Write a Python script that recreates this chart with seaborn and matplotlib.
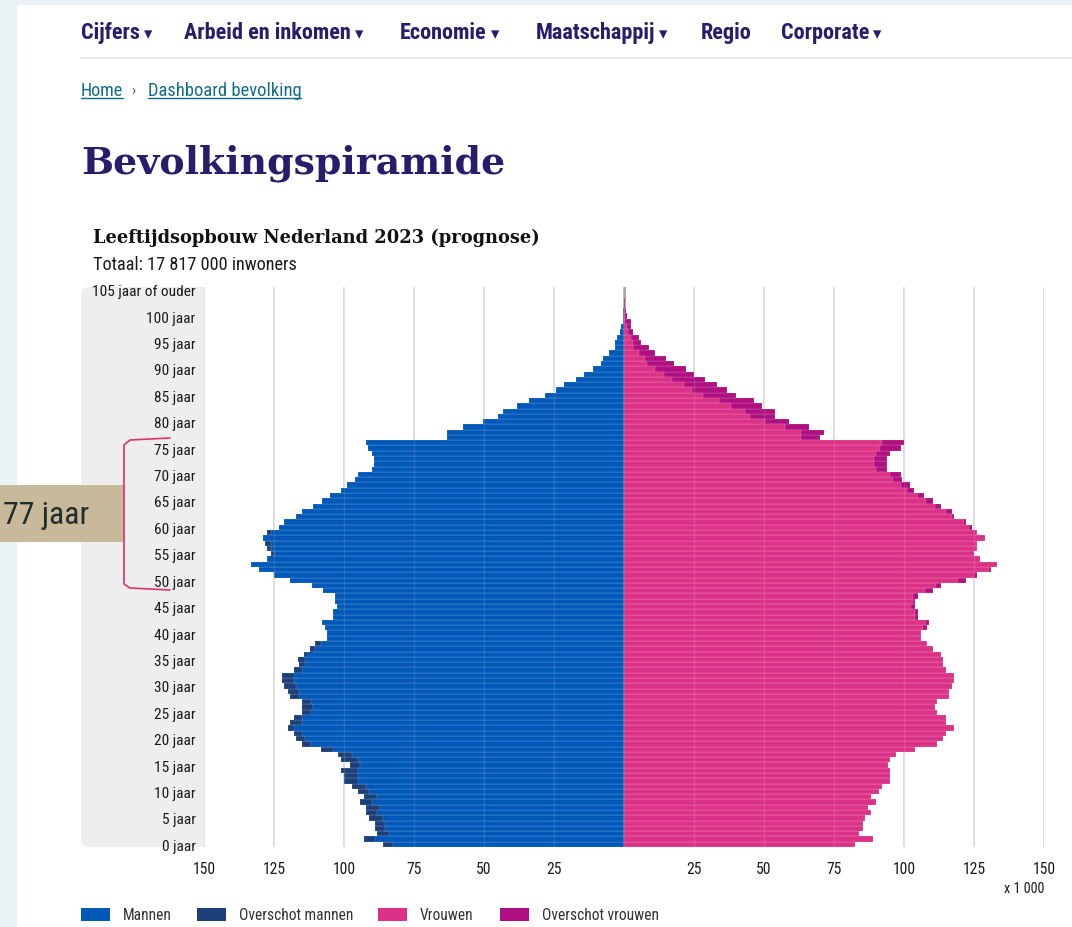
import numpy as np
import matplotlib
matplotlib.use("Agg")
import matplotlib.pyplot as plt
import matplotlib.font_manager as fm
from matplotlib.patches import Rectangle, FancyBboxPatch
from matplotlib.lines import Line2D
import seaborn as sns

# Leeftijd 0 .. 105 (105 = 105 jaar of ouder), aantallen x 1 000
leeftijd = list(range(106))
mannen = [
    86.2, 93.0, 88.2, 89.0, 89.0, 91.2, 92.0, 92.0, 94.2, 93.0,
    95.1, 97.1, 100.0, 100.0, 101.0, 97.9, 101.0, 102.3, 108.2, 115.0,
    117.2, 118.0, 120.1, 119.3, 118.0, 115.0, 115.0, 115.0, 119.3, 120.1,
    121.3, 122.3, 122.3, 118.0, 116.0, 116.3, 114.2, 112.1, 110.4, 106.2,
    106.2, 106.8, 108.0, 104.1, 104.1, 102.4, 103.2, 103.1, 107.4, 111.3,
    119.3, 125.0, 130.4, 133.3, 127.4, 126.2, 127.4, 128.2, 129.0, 127.4,
    123.1, 121.3, 117.1, 114.9, 111.0, 108.0, 105.0, 101.1, 99.0, 96.0,
    95.0, 90.1, 89.2, 89.2, 90.1, 91.3, 92.1, 63.3, 63.3, 57.4,
    50.2, 45.1, 43.1, 38.3, 34.0, 28.2, 24.3, 21.3, 17.1, 14.2,
    11.1, 8.3, 7.4, 5.2, 3.2, 3.1, 2.4, 1.4, 1.1, 0.5,
    0.3, 0.2, 0.1, 0.05, 0.02, 0.02,
]
vrouwen = [
    82.4, 89.0, 84.0, 85.2, 85.2, 86.1, 88.1, 87.0, 89.9, 88.1,
    91.2, 92.1, 95.0, 95.0, 95.0, 94.3, 95.0, 97.1, 103.9, 111.9,
    114.0, 115.0, 118.0, 115.0, 115.0, 111.9, 111.1, 111.9, 116.2, 116.2,
    117.0, 118.0, 118.0, 115.0, 114.0, 114.0, 113.1, 110.2, 108.1, 106.1,
    106.1, 108.1, 109.0, 105.1, 105.1, 103.9, 103.9, 105.1, 110.2, 113.1,
    122.1, 126.0, 131.1, 133.1, 127.1, 125.1, 126.0, 126.0, 128.9, 126.0,
    124.2, 122.1, 117.9, 117.0, 113.1, 110.2, 107.1, 103.7, 102.1, 99.2,
    99.0, 94.0, 94.0, 94.0, 94.9, 99.0, 100.0, 69.9, 71.3, 66.2,
    58.9, 53.8, 53.8, 49.3, 46.3, 39.9, 36.8, 33.2, 29.0, 25.0,
    22.3, 17.9, 14.9, 11.2, 8.9, 6.2, 5.2, 3.2, 2.4, 2.4,
    1.2, 0.8, 0.4, 0.2, 0.1, 0.1,
]
x_ticks = [-150, -125, -100, -75, -50, -25, 25, 50, 75, 100, 125, 150]
y_ticks = list(range(0, 106, 5))
y_labels = [f"{a} jaar" for a in y_ticks[:-1]] + ["105 jaar of ouder"]
reeksen = ["Mannen", "Overschot mannen", "Vrouwen", "Overschot vrouwen"]
kleuren = ["#0058B8", "#1C3F7A", "#DB3288", "#AF0F80"]
menu = ["Cijfers", "Arbeid en inkomen", "Economie", "Maatschappij", "Regio", "Corporate"]

# lettertypes
sns.set_style("white")
beschikbaar = {f.name for f in fm.fontManager.ttflist}
smal = "DejaVu Sans"
for naam in ["Roboto Condensed", "Liberation Sans Narrow", "Open Sans Condensed"]:
    if naam in beschikbaar:
        smal = naam
        break
plt.rcParams["font.family"] = [smal, "DejaVu Sans"]

INDIGO = "#271D6C"
TEAL = "#126B8C"

fig = plt.figure(figsize=(10.72, 9.28), dpi=100)
fig.patch.set_facecolor("white")
T = fig.dpi_scale_trans
r = fig.canvas.get_renderer()


def P(px, py):
    return px / 100, (928 - py) / 100


def breedte(t):
    return t.get_window_extent(r).width


def fit(t, doel):
    t.set_fontsize(t.get_fontsize() * doel / breedte(t))
    return t


# pagina achtergrond
fig.patches.append(Rectangle((0, 0), 0.16, 9.28, transform=T, color="#EAF2F5", zorder=-2))
fig.patches.append(Rectangle((0, 9.23), 10.72, 0.05, transform=T, color="#EAF2F5", zorder=-2))

# menu: een lettergrootte voor alle items
proef = fig.text(0, 0, "Arbeid en inkomen", fontsize=14, fontweight="bold", family=smal)
menu_fs = 14 * 168 / breedte(proef)
proef.remove()
menu_x = [81, 184, 400, 536, 701, 781]
for naam, x0 in zip(menu, menu_x):
    t = fig.text(*P(x0, 33), naam, transform=T, fontsize=menu_fs, fontweight="bold",
                 family=smal, color=INDIGO, va="center")
    if naam != "Regio":
        x1 = x0 + breedte(t)
        fig.text(*P(x1 + 4, 34), "▾", transform=T, fontsize=12, family="DejaVu Sans",
                 color=INDIGO, va="center")
fig.lines.append(Line2D([0.81, 10.72], [(928 - 59) / 100] * 2, transform=T,
                        color="#E6E6E6", lw=1.2))

# kruimelpad
for tekst, (x0, x1) in [("Home", (81, 123)), ("Dashboard bevolking", (148, 301))]:
    t = fig.text(*P(x0, 91), tekst, transform=T, fontsize=11, color=TEAL, va="center")
    fit(t, x1 - x0)
    fig.lines.append(Line2D([x0 / 100, x1 / 100], [(928 - 99) / 100] * 2, transform=T,
                            color=TEAL, lw=1))
fig.text(*P(131, 91), "›", transform=T, fontsize=11, color="#555555", va="center")

# titels
t = fig.text(*P(81, 174), "Bevolkingspiramide", transform=T, fontsize=32,
             fontweight="bold", family="DejaVu Serif", color=INDIGO, va="baseline")
fit(t, 425)
t = fig.text(*P(93, 243), "Leeftijdsopbouw Nederland 2023 (prognose)", transform=T,
             fontsize=15, fontweight="bold", family="DejaVu Serif", color="#111111",
             va="baseline")
fit(t, 448)
t = fig.text(*P(93, 270), "Totaal: 17 817 000 inwoners", transform=T, fontsize=11,
             color="#1a1a1a", va="baseline")
fit(t, 204)

# grijs vlak achter de leeftijdslabels
fig.patches.append(FancyBboxPatch((0.81, 0.80), 1.23, 5.60, transform=T,
                                  boxstyle="round,pad=0,rounding_size=0.08",
                                  fc="#EEEEEE", ec="none", zorder=-1))
fig.patches.append(Rectangle((1.85, 0.80), 0.19, 5.60, transform=T, fc="#EEEEEE",
                             ec="none", zorder=-1))

# grafiek
ax = fig.add_axes([204 / 1072, 80 / 928, 840 / 1072, 560 / 928])
ax.set_facecolor("none")

m = np.array(mannen)
v = np.array(vrouwen)
gemeen = np.minimum(m, v)
opts = dict(orient="h", native_scale=True, width=1.0, errorbar=None,
            saturation=1, linewidth=0.35, edgecolor=(1, 1, 1, 0.3), ax=ax, zorder=2)
sns.barplot(x=-m, y=leeftijd, color=kleuren[1], **opts)
sns.barplot(x=-gemeen, y=leeftijd, color=kleuren[0], **opts)
sns.barplot(x=v, y=leeftijd, color=kleuren[3], **opts)
sns.barplot(x=gemeen, y=leeftijd, color=kleuren[2], **opts)

for xv in range(-150, 151, 25):
    if xv == 0:
        ax.axvline(0, color="#8A8A8A", lw=1.8, zorder=1)
    else:
        ax.axvline(xv, color="#D9D9D9", lw=1.3, zorder=1)
        ax.axvline(xv, color="white", lw=1.0, alpha=0.12, zorder=3)

ax.set_xlim(-150, 150)
ax.set_ylim(-0.5, 105.5)
for s in ax.spines.values():
    s.set_visible(False)
ax.set_xlabel("")
ax.set_ylabel("")

# maat van de kleine teksten afstemmen op de breedte in de referentie
proef = fig.text(0, 0, "105 jaar of ouder", fontsize=10)
y_fs = 10 * 103 / breedte(proef)
proef.set_text("150")
x_fs = 10 * 23 / breedte(proef)
proef.set_text("Overschot mannen")
l_fs = 10 * 114 / breedte(proef)
proef.remove()

ax.set_yticks(y_ticks)
ax.set_yticklabels(y_labels, fontsize=y_fs, color="#1a1a1a")
ax.set_xticks(x_ticks)
ax.set_xticklabels([str(abs(x)) for x in x_ticks], fontsize=x_fs, color="#1a1a1a")
ax.tick_params(axis="both", length=0)
ax.tick_params(axis="y", pad=6)
ax.tick_params(axis="x", pad=10)
fig.text(*P(1044, 889), "x 1 000", transform=T, fontsize=x_fs * 0.9, color="#1a1a1a",
         ha="right", va="center")

# legenda
leg_x = [(81, 123), (197, 239), (378, 420), (500, 542)]
for naam, kleur, (xb, xt) in zip(reeksen, kleuren, leg_x):
    fig.patches.append(Rectangle(P(xb, 922), 0.29, 0.13, transform=T, fc=kleur, ec="none"))
    fig.text(*P(xt, 916), naam, transform=T, fontsize=l_fs, color="#333333", va="center")

# annotatie babyboom
fig.patches.append(Rectangle(P(0, 543), 1.24, 0.57, transform=T, fc="#C7B99A", ec="none"))
t = fig.text(*P(3, 516), "77 jaar", transform=T, fontsize=20, color="#1F2D2D", va="center")
fit(t, 86)
bx = [170, 130, 124, 124, 130, 170]
by = [439, 441, 446, 585, 589, 591]
fig.lines.append(Line2D([x / 100 for x in bx], [(928 - y) / 100 for y in by], transform=T,
                        color="#E0306A", lw=1.2))

fig.savefig("out.png", dpi=100)
